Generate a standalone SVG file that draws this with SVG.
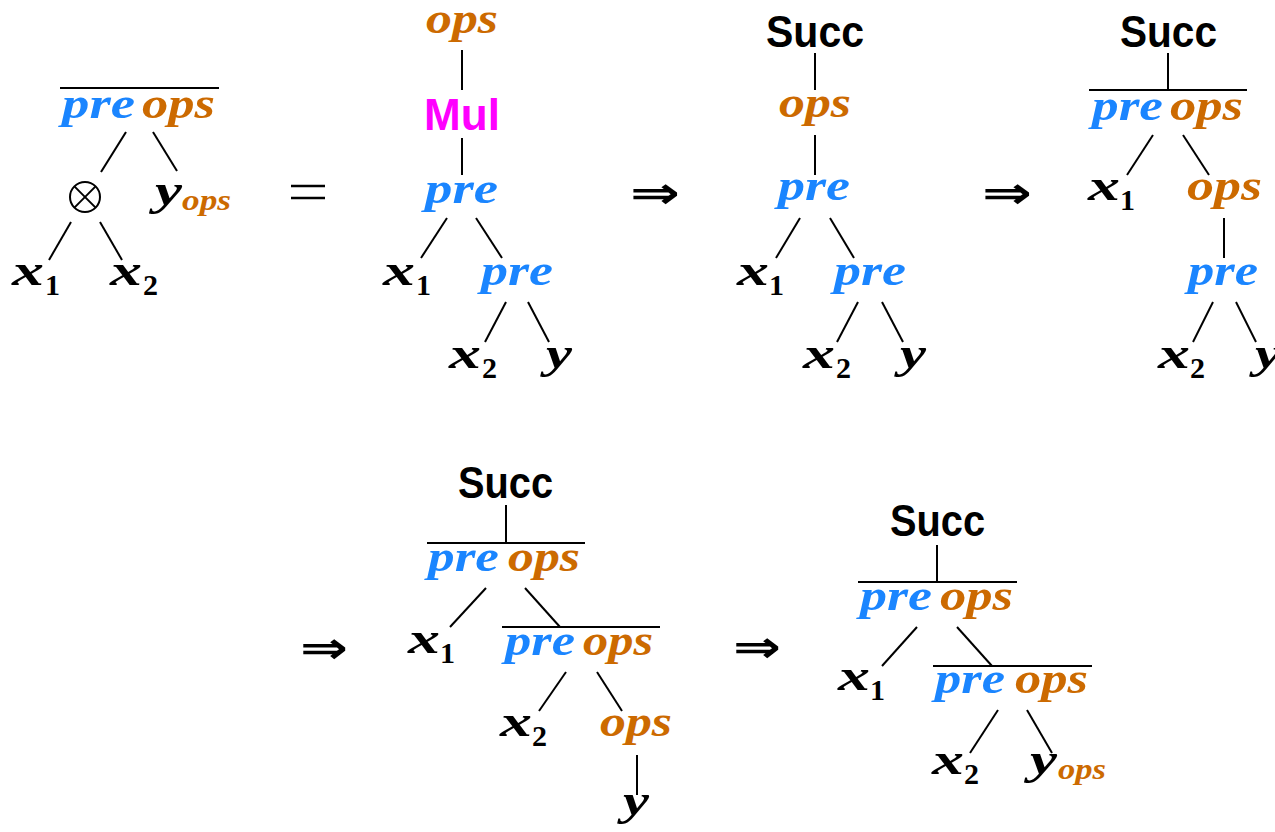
<svg xmlns="http://www.w3.org/2000/svg" width="1275" height="832" viewBox="0 0 1275 832">
<style>
.m{font-family:"Liberation Serif","DejaVu Serif",serif;font-weight:bold;font-style:italic;font-size:44px}
.sub{font-family:"Liberation Serif","DejaVu Serif",serif;font-weight:bold;font-size:30px}
.subi{font-family:"Liberation Serif","DejaVu Serif",serif;font-weight:bold;font-style:italic;font-size:30px}
.sf{font-family:"Liberation Sans","DejaVu Sans",sans-serif;font-weight:bold;font-size:44px}
.b{fill:#1a85ff}.o{fill:#cc6a00}.k{fill:#000}.mg{fill:#ff00ff}
.op{font-family:"DejaVu Sans",sans-serif;font-weight:bold;font-size:44px}
#edges line{stroke:#000;stroke-width:2}
</style>
<rect width="1275" height="832" fill="#fff"/>
<g id="edges">
<line x1="60" y1="88" x2="219" y2="88"/>
<line x1="126" y1="132" x2="101" y2="172"/>
<line x1="153" y1="132" x2="177" y2="171"/>
<line x1="71" y1="222" x2="49" y2="260"/>
<line x1="100" y1="222" x2="122" y2="260"/>
<line x1="462" y1="50" x2="462" y2="90"/>
<line x1="462" y1="138" x2="462" y2="175"/>
<line x1="447" y1="218" x2="421" y2="258"/>
<line x1="476" y1="218" x2="502" y2="258"/>
<line x1="506" y1="302" x2="485" y2="342"/>
<line x1="528" y1="302" x2="549" y2="342"/>
<line x1="815" y1="53" x2="815" y2="90"/>
<line x1="815" y1="135" x2="815" y2="175"/>
<line x1="800" y1="218" x2="776" y2="258"/>
<line x1="830" y1="218" x2="854" y2="258"/>
<line x1="858" y1="302" x2="837" y2="342"/>
<line x1="882" y1="302" x2="903" y2="342"/>
<line x1="1168" y1="53" x2="1168" y2="90"/>
<line x1="1089" y1="90" x2="1247" y2="90"/>
<line x1="1153" y1="135" x2="1127" y2="175"/>
<line x1="1183" y1="135" x2="1209" y2="175"/>
<line x1="1224" y1="218" x2="1224" y2="258"/>
<line x1="1213" y1="302" x2="1193" y2="342"/>
<line x1="1236" y1="302" x2="1256" y2="342"/>
<line x1="506" y1="505" x2="506" y2="543"/>
<line x1="427" y1="543" x2="585" y2="543"/>
<line x1="486" y1="588" x2="450" y2="627"/>
<line x1="525" y1="588" x2="560" y2="627"/>
<line x1="502" y1="627" x2="660" y2="627"/>
<line x1="566" y1="672" x2="539" y2="711"/>
<line x1="597" y1="672" x2="622" y2="711"/>
<line x1="637" y1="755" x2="637" y2="795"/>
<line x1="937" y1="545" x2="937" y2="582"/>
<line x1="858" y1="582" x2="1017" y2="582"/>
<line x1="917" y1="627" x2="882" y2="666"/>
<line x1="957" y1="627" x2="992" y2="666"/>
<line x1="933" y1="666" x2="1092" y2="666"/>
<line x1="998" y1="710" x2="970" y2="753"/>
<line x1="1027" y1="710" x2="1052" y2="753"/>
</g>

<g id="tree1">
<text class="m b" x="62" y="118" textLength="73" lengthAdjust="spacingAndGlyphs">pre</text>
<text class="m o" x="142" y="118" textLength="73" lengthAdjust="spacingAndGlyphs">ops</text>
<g id="otimes" fill="none" stroke="#000" stroke-width="2">
<circle cx="85" cy="197" r="15"/>
<line x1="74.4" y1="186.4" x2="95.6" y2="207.6"/>
<line x1="95.6" y1="186.4" x2="74.4" y2="207.6"/>
</g>
<text class="m k" x="155" y="205" textLength="27" lengthAdjust="spacingAndGlyphs">y</text>
<text class="subi o" x="182" y="210" textLength="49" lengthAdjust="spacingAndGlyphs">ops</text>
<text class="m k" x="12" y="285" textLength="32" lengthAdjust="spacingAndGlyphs">x</text>
<text class="sub k" x="45" y="295">1</text>
<text class="m k" x="110" y="285" textLength="32" lengthAdjust="spacingAndGlyphs">x</text>
<text class="sub k" x="143" y="295">2</text>
</g>

<g id="eq">
<line x1="291" y1="186" x2="325" y2="186" stroke="#000" stroke-width="2.5"/>
<line x1="291" y1="198" x2="325" y2="198" stroke="#000" stroke-width="2.5"/>
</g>

<g id="tree2">
<text class="m o" x="426" y="33" textLength="72" lengthAdjust="spacingAndGlyphs">ops</text>
<text class="sf mg" x="424" y="130" textLength="76" lengthAdjust="spacingAndGlyphs">Mul</text>
<text class="m b" x="425" y="203" textLength="73" lengthAdjust="spacingAndGlyphs">pre</text>
<text class="m k" x="383" y="285" textLength="32" lengthAdjust="spacingAndGlyphs">x</text>
<text class="sub k" x="416" y="295">1</text>
<text class="m b" x="481" y="285" textLength="72" lengthAdjust="spacingAndGlyphs">pre</text>
<text class="m k" x="449" y="368" textLength="32" lengthAdjust="spacingAndGlyphs">x</text>
<text class="sub k" x="482" y="378">2</text>
<text class="m k" x="546" y="368" textLength="26" lengthAdjust="spacingAndGlyphs">y</text>
</g>

<text id="arr1" class="op k" x="630" y="208" textLength="50" lengthAdjust="spacingAndGlyphs">⇒</text>

<g id="tree3">
<text class="sf k" x="766" y="47" textLength="98" lengthAdjust="spacingAndGlyphs">Succ</text>
<text class="m o" x="779" y="117" textLength="72" lengthAdjust="spacingAndGlyphs">ops</text>
<text class="m b" x="778" y="200" textLength="72" lengthAdjust="spacingAndGlyphs">pre</text>
<text class="m k" x="737" y="285" textLength="32" lengthAdjust="spacingAndGlyphs">x</text>
<text class="sub k" x="769" y="295">1</text>
<text class="m b" x="834" y="285" textLength="72" lengthAdjust="spacingAndGlyphs">pre</text>
<text class="m k" x="803" y="368" textLength="32" lengthAdjust="spacingAndGlyphs">x</text>
<text class="sub k" x="836" y="378">2</text>
<text class="m k" x="900" y="368" textLength="26" lengthAdjust="spacingAndGlyphs">y</text>
</g>

<text id="arr2" class="op k" x="982" y="208" textLength="50" lengthAdjust="spacingAndGlyphs">⇒</text>

<g id="tree4">
<text class="sf k" x="1120" y="47" textLength="97" lengthAdjust="spacingAndGlyphs">Succ</text>
<text class="m b" x="1092" y="120" textLength="71" lengthAdjust="spacingAndGlyphs">pre</text>
<text class="m o" x="1170" y="120" textLength="73" lengthAdjust="spacingAndGlyphs">ops</text>
<text class="m k" x="1088" y="200" textLength="32" lengthAdjust="spacingAndGlyphs">x</text>
<text class="sub k" x="1120" y="210">1</text>
<text class="m o" x="1187" y="200" textLength="75" lengthAdjust="spacingAndGlyphs">ops</text>
<text class="m b" x="1188" y="285" textLength="70" lengthAdjust="spacingAndGlyphs">pre</text>
<text class="m k" x="1158" y="368" textLength="32" lengthAdjust="spacingAndGlyphs">x</text>
<text class="sub k" x="1190" y="378">2</text>
<text class="m k" x="1255" y="368" textLength="26" lengthAdjust="spacingAndGlyphs">y</text>
</g>

<text id="arr3" class="op k" x="300" y="663" textLength="48" lengthAdjust="spacingAndGlyphs">⇒</text>

<g id="tree5">
<text class="sf k" x="458" y="498" textLength="95" lengthAdjust="spacingAndGlyphs">Succ</text>
<text class="m b" x="428" y="571" textLength="71" lengthAdjust="spacingAndGlyphs">pre</text>
<text class="m o" x="508" y="571" textLength="72" lengthAdjust="spacingAndGlyphs">ops</text>
<text class="m k" x="408" y="653" textLength="32" lengthAdjust="spacingAndGlyphs">x</text>
<text class="sub k" x="440" y="663">1</text>
<text class="m b" x="505" y="655" textLength="70" lengthAdjust="spacingAndGlyphs">pre</text>
<text class="m o" x="583" y="655" textLength="70" lengthAdjust="spacingAndGlyphs">ops</text>
<text class="m k" x="500" y="736" textLength="32" lengthAdjust="spacingAndGlyphs">x</text>
<text class="sub k" x="532" y="746">2</text>
<text class="m o" x="600" y="736" textLength="72" lengthAdjust="spacingAndGlyphs">ops</text>
<text class="m k" x="623" y="815" textLength="26" lengthAdjust="spacingAndGlyphs">y</text>
</g>

<text id="arr4" class="op k" x="733" y="662" textLength="48" lengthAdjust="spacingAndGlyphs">⇒</text>

<g id="tree6">
<text class="sf k" x="890" y="536" textLength="95" lengthAdjust="spacingAndGlyphs">Succ</text>
<text class="m b" x="860" y="610" textLength="72" lengthAdjust="spacingAndGlyphs">pre</text>
<text class="m o" x="940" y="610" textLength="73" lengthAdjust="spacingAndGlyphs">ops</text>
<text class="m k" x="838" y="690" textLength="32" lengthAdjust="spacingAndGlyphs">x</text>
<text class="sub k" x="870" y="700">1</text>
<text class="m b" x="935" y="693" textLength="70" lengthAdjust="spacingAndGlyphs">pre</text>
<text class="m o" x="1015" y="693" textLength="73" lengthAdjust="spacingAndGlyphs">ops</text>
<text class="m k" x="932" y="774" textLength="32" lengthAdjust="spacingAndGlyphs">x</text>
<text class="sub k" x="964" y="784">2</text>
<text class="m k" x="1030" y="774" textLength="27" lengthAdjust="spacingAndGlyphs">y</text>
<text class="subi o" x="1058" y="779" textLength="48" lengthAdjust="spacingAndGlyphs">ops</text>
</g>
</svg>
